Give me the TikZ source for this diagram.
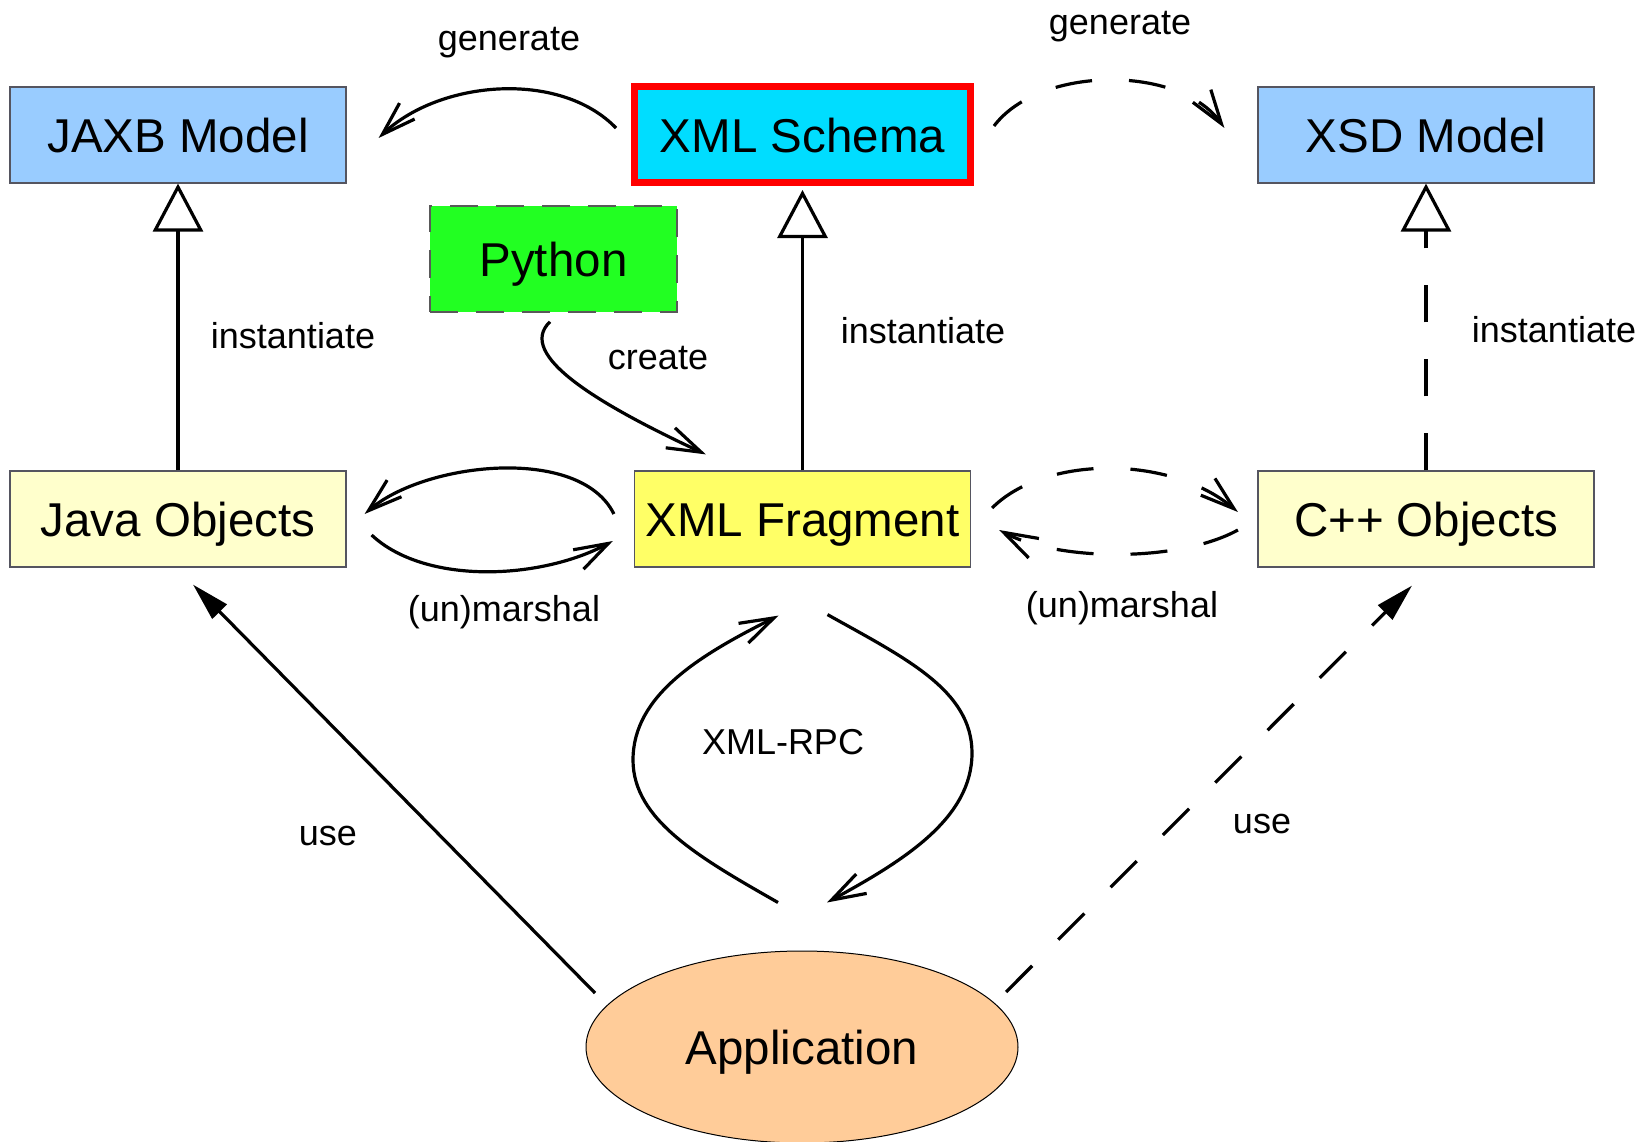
\documentclass[tikz,border=0pt]{standalone}
\usepackage{fontspec}
\setmainfont{Liberation Sans}
\usetikzlibrary{arrows.meta,shapes.geometric,calc}
\definecolor{modelblue}{HTML}{99CCFF}
\definecolor{schemacyan}{HTML}{00DDFF}
\definecolor{pygreen}{HTML}{22FF22}
\definecolor{objyellow}{HTML}{FFFFCC}
\definecolor{fragyellow}{HTML}{FFFF66}
\definecolor{apporange}{HTML}{FFCC99}
\definecolor{boxborder}{HTML}{555560}
\definecolor{schemared}{HTML}{FF0000}
\begin{document}
\begin{tikzpicture}[x=1pt,y=-1pt,
  box/.style={draw=boxborder, line width=1.2pt, minimum width=336pt, minimum height=96pt,
    inner sep=0pt, font=\fontsize{47.5}{56}\selectfont, text height=42.75pt, text depth=8.74pt},
  lbl/.style={font=\fontsize{36}{42}\selectfont, inner sep=0pt},
  conn/.style={line width=3.2pt, black},
  dsh/.style={dash pattern=on 37pt off 37pt},
  barb/.style={-{Straight Barb[length=34pt,width=22pt]}},
  inherit/.style={-{Triangle[open,length=48pt,width=50pt]}},
  usetip/.style={-{Triangle[length=38pt,width=20pt]}}
]
\path[use as bounding box, fill=white] (0,0) rectangle (1646,1142);

% nodes
\node[box, fill=modelblue] (jaxb) at (178,135) {JAXB Model};
\node[box, fill=schemacyan, draw=schemared, line width=7pt] (schema) at (802.5,135) {XML Schema};
\node[box, fill=modelblue] (xsd) at (1426,135) {XSD Model};
\node[box, fill=pygreen, minimum width=247pt, minimum height=106pt, draw=gray!70!black,
      line width=1.5pt, dash pattern=on 28pt off 18pt] (python) at (553.5,259) {Python};
\node[box, fill=objyellow] (java) at (178,519) {Java Objects};
\node[box, fill=fragyellow] (frag) at (802.5,519) {XML Fragment};
\node[box, fill=objyellow] (cpp) at (1426,519) {C++ Objects};
\node[ellipse, draw=black, line width=1pt, fill=apporange, minimum width=432pt, minimum height=192pt,
      inner sep=0pt, font=\fontsize{47.5}{56}\selectfont, text height=42.75pt, text depth=8.74pt] (app) at (802,1047) {Application};

% labels
\node[lbl] (lgen1) at (509,43) {generate};
\node[lbl] (lgen2) at (1120,27) {generate};
\node[lbl] (linst1) at (293,336) {instantiate};
\node[lbl] (linst2) at (923,331) {instantiate};
\node[lbl] (linst3) at (1554,330) {instantiate};
\node[lbl] (lcreate) at (658,358) {create};
\node[lbl] (lmar1) at (504,612) {(un)marshal};
\node[lbl] (lmar2) at (1122,608) {(un)marshal};
\node[lbl] (lrpc) at (783,742) {XML-RPC};
\node[lbl] (luse1) at (328,836) {use};
\node[lbl] (luse2) at (1262,824) {use};

% generate
\draw[conn, barb] ($(schema.west)+(-15,-7)$) .. controls (560,70) and (440,80) .. ($(jaxb.east)+(32,3)$);
\draw[conn, dsh, barb] ($(schema.east)+(20,-9)$) .. controls (1040,65) and (1180,65) .. ($(xsd.west)+(-33,-7)$);

% instantiate
\draw[conn, inherit] (java.north) -- (jaxb.south);
\draw[conn, inherit] (frag.north) -- ($(schema.south)+(0,3.5)$);
\draw[conn, dsh, inherit] (cpp.north) -- (xsd.south);

% create
\draw[conn, barb] ($(python.south)+(-3.5,9)$) .. controls (515,355) and (600,405) .. ($(frag.north west)+(72,-16)$);

% (un)marshal java
\draw[conn, barb] ($(frag.west)+(-20,-5)$) .. controls (580,445) and (425,462) .. ($(java.east)+(18,-5)$);
\draw[conn, barb] ($(java.east)+(25,16)$) .. controls (425,585) and (540,580) .. ($(frag.west)+(-21,22)$);

% (un)marshal c++
\draw[conn, dsh, barb] ($(frag.east)+(21,-11)$) .. controls (1045,455) and (1170,455) .. ($(cpp.west)+(-19.5,-7)$);
\draw[conn, dsh, barb] ($(cpp.west)+(-19.5,11)$) .. controls (1180,562) and (1060,562) .. ($(frag.east)+(28,11)$);

% XML-RPC
\draw[conn, barb] ($(app.north)+(-24,-48)$) .. controls (700,858) and (633,820) .. (633,760)
   .. controls (633,695) and (700,655) .. ($(frag.south)+(-24,48)$);
\draw[conn, barb] ($(frag.south)+(25,47)$) .. controls (905,658) and (972,690) .. (972,753)
   .. controls (972,818) and (905,860) .. ($(app.north)+(25,-48)$);

% use
\draw[conn, usetip] ($(app.center)+(-207,-54)$) -- ($(java.south)+(15,17)$);
\draw[conn, dsh, usetip] ($(app.center)+(204,-55)$) -- ($(cpp.south)+(-14,18)$);
\end{tikzpicture}
\end{document}
